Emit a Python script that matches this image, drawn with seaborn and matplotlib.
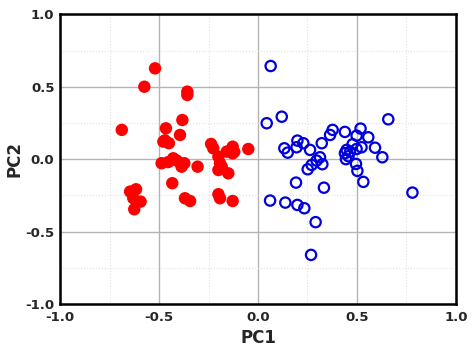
import matplotlib
matplotlib.use("Agg")
import matplotlib.pyplot as plt
import seaborn as sns
import pandas as pd
from matplotlib.ticker import MultipleLocator

red_x = [-0.520, -0.574, -0.357, -0.357, -0.688, -0.382, -0.465, -0.478, -0.47, -0.45,
         -0.394, -0.237, -0.226, -0.049, -0.128, -0.128, -0.158, -0.20, -0.192, -0.183,
         -0.20, -0.15, -0.487, -0.428, -0.386, -0.372, -0.453, -0.41, -0.305, -0.433,
         -0.646, -0.616, -0.63, -0.593, -0.625, -0.369, -0.343, -0.20, -0.192, -0.128,
         -0.12]
red_y = [0.627, 0.500, 0.466, 0.443, 0.202, 0.270, 0.213, 0.121, 0.13, 0.11,
         0.167, 0.105, 0.075, 0.070, 0.086, 0.040, 0.052, 0.017, -0.028, -0.052,
         -0.075, -0.098, -0.028, 0.006, -0.052, -0.028, -0.020, -0.01, -0.052, -0.166,
         -0.224, -0.208, -0.270, -0.293, -0.346, -0.270, -0.289, -0.242, -0.270, -0.289,
         0.05]

blue_x = [0.064, 0.120, 0.044, 0.658, 0.133, 0.150, 0.199, 0.195, 0.229, 0.263,
          0.322, 0.313, 0.296, 0.325, 0.271, 0.251, 0.192, 0.333, 0.061, 0.138,
          0.199, 0.234, 0.291, 0.268, 0.780, 0.377, 0.364, 0.439, 0.518, 0.498,
          0.557, 0.591, 0.628, 0.478, 0.448, 0.439, 0.498, 0.523, 0.465, 0.444,
          0.457, 0.495, 0.502, 0.532]
blue_y = [0.643, 0.293, 0.248, 0.275, 0.075, 0.045, 0.128, 0.082, 0.110, 0.064,
          0.110, 0.013, -0.010, -0.035, -0.040, -0.070, -0.162, -0.197, -0.286, -0.300,
          -0.316, -0.339, -0.435, -0.661, -0.231, 0.202, 0.167, 0.188, 0.211, 0.162,
          0.151, 0.079, 0.013, 0.103, 0.064, 0.041, 0.070, 0.082, 0.052, 0.000,
          0.020, -0.033, -0.081, -0.157]

tick_vals = [-1.0, -0.5, 0.0, 0.5, 1.0]
tick_labels = ["-1.0", "-0.5", "0.0", "0.5", "1.0"]

sns.set_style("white")
plt.rcParams['font.family'] = ['DejaVu Sans']

fig = plt.figure(figsize=(4.74, 3.55), dpi=100)
ax = fig.add_axes([0.1266, 0.1437, 0.8354, 0.816])

red_df = pd.DataFrame({"PC1": red_x, "PC2": red_y})
blue_df = pd.DataFrame({"PC1": blue_x, "PC2": blue_y})

sns.scatterplot(data=red_df, x="PC1", y="PC2", ax=ax, color="#ff0000",
                s=80, edgecolor="none", zorder=3)
sns.scatterplot(data=blue_df, x="PC1", y="PC2", ax=ax, facecolor="none",
                edgecolor="#0000dd", linewidth=1.6, s=55, zorder=3)

ax.set_xlim(-1, 1)
ax.set_ylim(-1, 1)
ax.set_xticks(tick_vals)
ax.set_xticklabels(tick_labels)
ax.set_yticks(tick_vals)
ax.set_yticklabels(tick_labels)
ax.xaxis.set_minor_locator(MultipleLocator(0.25))
ax.yaxis.set_minor_locator(MultipleLocator(0.25))
ax.grid(True, which="major", color="#b4b4b4", linewidth=1.0, linestyle="-", zorder=0)
ax.grid(True, which="minor", color="#e2e2e2", linewidth=0.8, linestyle=":", zorder=0)
ax.set_axisbelow(True)
ax.tick_params(axis="both", which="both", length=0, labelsize=9.5)
ax.tick_params(axis="x", pad=5)
ax.tick_params(axis="y", pad=4)
for lab in ax.get_xticklabels() + ax.get_yticklabels():
    lab.set_fontweight("bold")
for sp in ax.spines.values():
    sp.set_visible(True)
    sp.set_color("black")
    sp.set_linewidth(1.8)
ax.set_xlabel("PC1", fontsize=12, fontweight="bold", labelpad=4)
ax.set_ylabel("PC2", fontsize=12, fontweight="bold", labelpad=1)

fig.savefig("out.png", dpi=100)
